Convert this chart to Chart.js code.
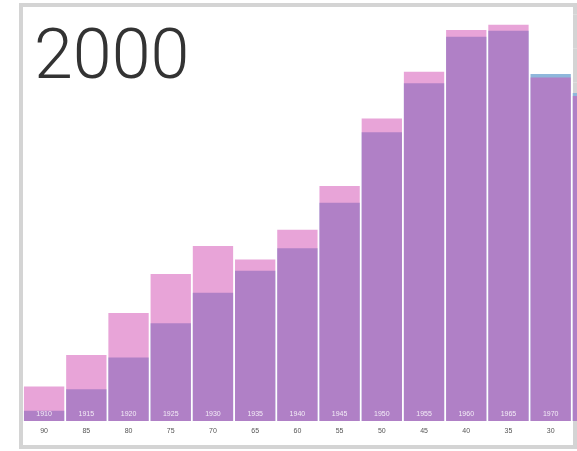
<!DOCTYPE html>
<html>
<head>
<meta charset="utf-8">
<script src="https://cdn.jsdelivr.net/npm/chart.js@4"></script>
<style>
  html, body { margin: 0; padding: 0; width: 577px; height: 451px; overflow: hidden; background: #fff; }
  #frame { position: absolute; left: 19px; top: 3px; width: 558px; height: 446px; box-sizing: border-box; border: 4px solid #d4d4d4; background: #fff; }
  #wrap { position: absolute; left: 0; top: 0; width: 620px; height: 451px; }
  #title { position: absolute; left: 34px; top: 19px; font-family: Roboto, "Liberation Sans", sans-serif; font-weight: 300; font-size: 70px; line-height: 1; color: #333; }
</style>
</head>
<body>
<div id="frame"></div>
<div id="wrap"><canvas id="c" width="620" height="451"></canvas></div>
<div id="title">2000</div>
<script>
// Ages (x tick labels), birth years (labels inside bars), population (millions)
const ages = [90, 85, 80, 75, 70, 65, 60, 55, 50, 45, 40, 35, 30, 25];
const birthYears = [1910, 1915, 1920, 1925, 1930, 1935, 1940, 1945, 1950, 1955, 1960, 1965, 1970, 1975];
const female = [1.03, 1.96, 3.20, 4.35, 5.18, 4.78, 5.66, 6.95, 8.94, 10.32, 11.55, 11.70, 10.15, 9.60];
const male = [0.32, 0.95, 1.89, 2.90, 3.80, 4.45, 5.11, 6.45, 8.53, 9.98, 11.35, 11.53, 10.25, 9.69];

const birthYearLabels = {
  id: 'birthYearLabels',
  afterDatasetsDraw(chart) {
    const { ctx, scales: { x, y } } = chart;
    ctx.save();
    ctx.font = '7px "Liberation Sans", Arial, sans-serif';
    ctx.fillStyle = 'rgba(255,255,255,0.85)';
    ctx.textAlign = 'center';
    ctx.textBaseline = 'middle';
    birthYears.forEach((yr, i) => {
      ctx.fillText(String(yr), x.getPixelForValue(i), y.bottom - 7);
    });
    ctx.restore();
  }
};

new Chart(document.getElementById('c'), {
  type: 'bar',
  data: {
    labels: ages.map(String),
    datasets: [
      { label: 'Female', data: female, backgroundColor: 'rgba(209,73,177,0.5)', borderWidth: 0, grouped: false, barPercentage: 0.955, categoryPercentage: 1 },
      { label: 'Male', data: male, backgroundColor: 'rgb(143,183,219)', borderWidth: 0, grouped: false, barPercentage: 0.955, categoryPercentage: 1 }
    ]
  },
  options: {
    responsive: false,
    animation: false,
    events: [],
    layout: { padding: { left: 23, right: 6, top: 14.7, bottom: 0 } },
    plugins: { legend: { display: false }, tooltip: { enabled: false }, title: { display: false } },
    scales: {
      x: {
        grid: { display: false, drawTicks: false },
        border: { display: false },
        ticks: { color: '#555', font: { family: '"Liberation Sans", Arial, sans-serif', size: 7 }, padding: 5, maxRotation: 0, autoSkip: false },
        afterFit: (s) => { s.height = 29.5; }
      },
      y: {
        min: 0, max: 12,
        z: 1,
        ticks: { display: false, stepSize: 1 },
        grid: { color: (c) => c.tick && c.tick.value === 0 ? 'rgba(0,0,0,0)' : 'rgba(255,255,255,0.22)', drawTicks: false, lineWidth: 1 },
        border: { display: false },
        afterFit: (s) => { s.width = 0; }
      }
    }
  },
  plugins: [birthYearLabels]
});
</script>
</body>
</html>
